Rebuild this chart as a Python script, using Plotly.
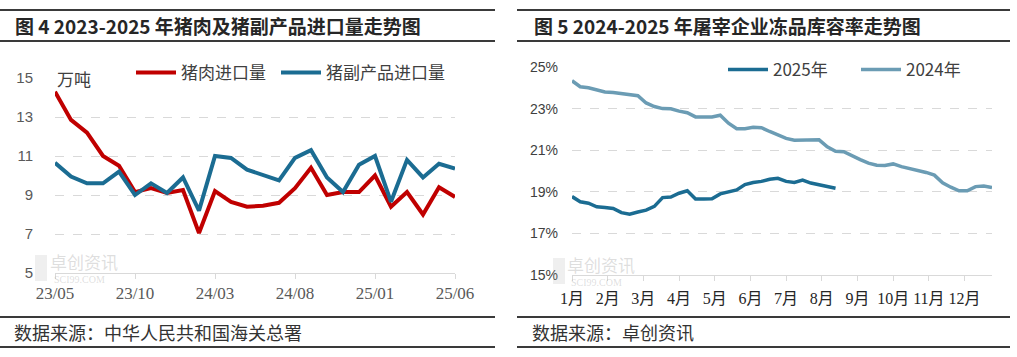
import plotly.graph_objects as go

W, H = 1017, 357

# ---------------- data: left chart (万吨) ----------------
months_left = ["23/05", "23/06", "23/07", "23/08", "23/09", "23/10", "23/11", "23/12",
               "24/01", "24/02", "24/03", "24/04", "24/05", "24/06", "24/07", "24/08",
               "24/09", "24/10", "24/11", "24/12", "25/01", "25/02", "25/03", "25/04",
               "25/05", "25/06"]
left_tick_labels = ["23/05", "23/10", "24/03", "24/08", "25/01", "25/06"]
pork_import = [14.3, 12.85, 12.2, 11.0, 10.5, 9.15, 9.35, 9.1, 9.25, 7.05,
               9.2, 8.65, 8.4, 8.45, 8.6, 9.35, 10.4, 9.0, 9.15, 9.15,
               10.0, 8.4, 9.15, 8.0, 9.4, 8.9]
offal_import = [10.65, 9.95, 9.6, 9.6, 10.2, 9.0, 9.6, 9.1, 9.9, 8.2,
                11.0, 10.9, 10.3, 10.0, 9.75, 10.9, 11.3, 9.9, 9.15, 10.55,
                11.0, 8.65, 10.8, 9.9, 10.6, 10.35]

# ---------------- data: right chart (%) ----------------
weeks_2024 = list(range(1, 53))
rate_2024 = [24.34, 24.05, 24.0, 23.9, 23.8, 23.77, 23.72, 23.67, 23.62, 23.27,
             23.1, 23.0, 22.99, 22.88, 22.8, 22.6, 22.6, 22.6, 22.68, 22.3,
             22.03, 22.03, 22.1, 22.08, 21.9, 21.72, 21.57, 21.48, 21.5, 21.52,
             21.5, 21.16, 20.95, 20.93, 20.72, 20.55, 20.38, 20.28, 20.26, 20.34,
             20.21, 20.13, 20.04, 19.93, 19.8, 19.43, 19.22, 19.05, 19.05, 19.25,
             19.28, 19.2]
weeks_2025 = list(range(1, 34))
rate_2025 = [18.77, 18.52, 18.45, 18.28, 18.25, 18.2, 18.0, 17.92, 18.03, 18.12,
             18.3, 18.72, 18.75, 18.93, 19.05, 18.65, 18.65, 18.66, 18.9, 19.0,
             19.09, 19.35, 19.45, 19.5, 19.6, 19.65, 19.5, 19.45, 19.56, 19.42,
             19.33, 19.25, 19.17]
month_labels = ["1月", "2月", "3月", "4月", "5月", "6月", "7月", "8月", "9月", "10月", "11月", "12月"]
month_week_pos = [1 + m * 52 / 12 for m in range(12)]

RED = "#C00000"
BLUE = "#1B6C92"
LIGHT = "#6B9CB4"
GRID = "#D9D9D9"
TICK = "#595959"
CJK = "Noto Sans CJK SC"
SERIF = "Liberation Serif, Noto Sans CJK SC"
SANS = "Liberation Sans, Arial, sans-serif"


def px(x):
    return x / W


def py(y):
    return 1 - y / H


fig = go.Figure()

fig.add_trace(go.Scatter(x=months_left, y=pork_import, mode="lines", name="猪肉进口量",
                         line=dict(color=RED, width=4), xaxis="x", yaxis="y", legend="legend"))
fig.add_trace(go.Scatter(x=months_left, y=offal_import, mode="lines", name="猪副产品进口量",
                         line=dict(color=BLUE, width=4), xaxis="x", yaxis="y", legend="legend2"))
fig.add_trace(go.Scatter(x=weeks_2025, y=rate_2025, mode="lines", name="2025年",
                         line=dict(color=BLUE, width=3.5), xaxis="x2", yaxis="y2", legend="legend3"))
fig.add_trace(go.Scatter(x=weeks_2024, y=rate_2024, mode="lines", name="2024年",
                         line=dict(color=LIGHT, width=3.5), xaxis="x2", yaxis="y2", legend="legend4"))

legend_common = dict(orientation="h", xanchor="left", yanchor="middle", bgcolor="rgba(0,0,0,0)",
                     borderwidth=0, font=dict(family=CJK, size=17, color="#404040"),
                     itemwidth=40)

shapes = []
for (x0, x1) in [(0, 495), (517, 1010)]:
    for yy in (10, 41, 317, 347):
        shapes.append(dict(type="line", xref="paper", yref="paper", x0=px(x0), x1=px(x1),
                           y0=py(yy), y1=py(yy), line=dict(color="#3A3A3A", width=2)))


def note(text, x, y, size, color, family=CJK, xanchor="left"):
    return dict(text=text, x=px(x), y=py(y), xref="paper", yref="paper", showarrow=False,
                xanchor=xanchor, yanchor="middle", font=dict(family=family, size=size, color=color))


WM = "rgba(160,160,160,0.35)"
annotations = [
    note("<b>图 4 2023-2025 年猪肉及猪副产品进口量走势图</b>", 13, 25.5, 19, "#262626"),
    note("<b>图 5 2024-2025 年屠宰企业冻品库容率走势图</b>", 532, 25.5, 19, "#262626"),
    note("数据来源：中华人民共和国海关总署", 12, 332, 18, "#333333"),
    note("数据来源：卓创资讯", 530, 332, 18, "#333333"),
    note("万吨", 55, 78, 17, "#404040"),
    # watermarks
    note("卓创资讯", 48, 261, 17, WM),
    note("SCI99.COM", 52, 279, 10, WM, SERIF),
    note("卓创资讯", 565, 264, 17, WM),
    note("SCI99.COM", 569, 282, 10, WM, SERIF),
]
for (lx, ly) in [(35, 255), (553, 258)]:
    shapes.append(dict(type="rect", xref="paper", yref="paper", x0=px(lx), x1=px(lx + 12),
                       y0=py(ly + 26), y1=py(ly), line=dict(width=0),
                       fillcolor="rgba(180,180,180,0.22)"))

axis_common = dict(showline=True, linecolor=GRID, linewidth=1, ticks="outside",
                   tickcolor=GRID, showgrid=False, zeroline=False, automargin=False)
yaxis_common = dict(showline=False, showgrid=True, gridcolor=GRID, griddash="dash", gridwidth=1,
                    zeroline=False, ticks="", dtick=2, tick0=5, automargin=False)

fig.update_layout(
    width=W, height=H, margin=dict(l=0, r=0, t=0, b=0, autoexpand=False),
    paper_bgcolor="white", plot_bgcolor="white",
    xaxis=dict(domain=[px(55), px(455)], range=[0, 25], type="category",
               tickmode="array", tickvals=left_tick_labels, ticktext=left_tick_labels,
               tickfont=dict(family=SERIF, size=17, color=TICK), ticklen=5, ticklabelstandoff=0,
               anchor="y", **axis_common),
    yaxis=dict(domain=[py(273), py(78)], range=[5, 15], anchor="x",
               tickfont=dict(family=SANS, size=15, color=TICK), ticklabelstandoff=21,
               **yaxis_common),
    xaxis2=dict(domain=[px(572), px(992)], range=[1, 52], tickmode="array",
                tickvals=month_week_pos, ticktext=month_labels,
                tickfont=dict(family=SERIF, size=16, color="#262626"), ticklen=5, ticklabelstandoff=4,
                anchor="y2", **axis_common),
    yaxis2=dict(domain=[py(275), py(67)], range=[15, 25], anchor="x2", ticksuffix="%",
                tickfont=dict(family=SANS, size=14, color="#404040"), ticklabelstandoff=13,
                **{**yaxis_common, "tick0": 15}),
    legend=dict(x=px(131), y=py(73), **legend_common),
    legend2=dict(x=px(276), y=py(73), **legend_common),
    legend3=dict(x=px(723), y=py(70), **legend_common),
    legend4=dict(x=px(856), y=py(70), **legend_common),
    shapes=shapes, annotations=annotations, showlegend=True,
)

fig.write_html("out.html", config={"displayModeBar": False},
               post_script="document.body.style.margin='0';")
